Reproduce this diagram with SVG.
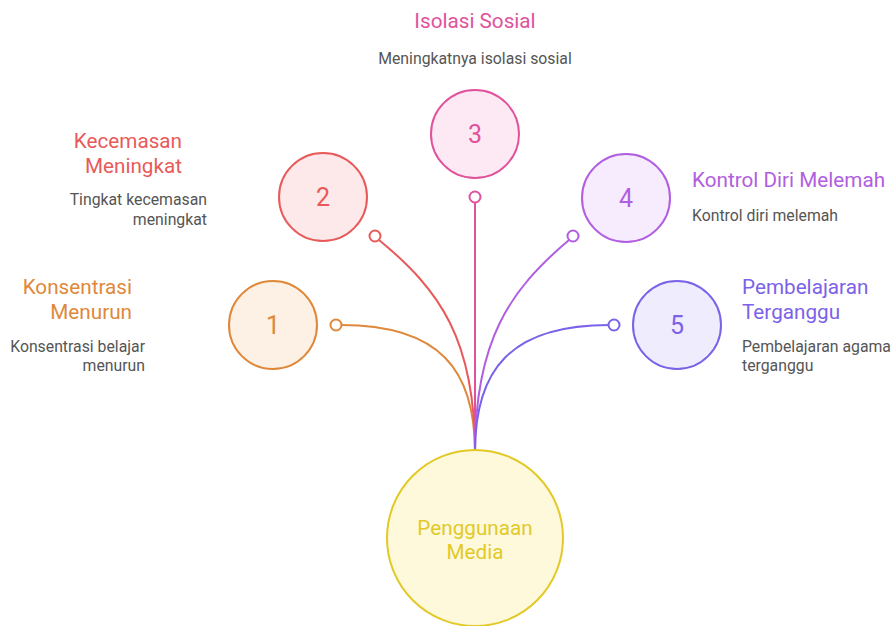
<svg xmlns="http://www.w3.org/2000/svg" width="893" height="626" viewBox="0 0 893 626">
<style>
text{font-family:Roboto,"Liberation Sans",sans-serif}
.t{font-size:20.7px}
.d{font-size:15.8px;fill:#555}
.n{font-size:25px;text-anchor:middle}
.c{fill:none;stroke-width:2}
.dot{fill:#fff;stroke-width:2}
</style>
<rect width="893" height="626" fill="#fff"/>
<g id="connectors">
<path class="c" stroke="#e0883a" d="M475 452 C475 370 440 325 341 325"/>
<path class="c" stroke="#e85a5a" d="M475 452 C475 340 440 290 379 240"/>
<path class="c" stroke="#e0529c" d="M475 452 L475 202"/>
<path class="c" stroke="#b15ee0" d="M475 452 C475 340 510 290 569 240"/>
<path class="c" stroke="#7b62e8" d="M475 452 C475 370 510 325 609 325"/>
<circle class="dot" stroke="#e0883a" cx="336" cy="325" r="5.5"/>
<circle class="dot" stroke="#e85a5a" cx="375" cy="236" r="5.5"/>
<circle class="dot" stroke="#e0529c" cx="475" cy="197" r="5.5"/>
<circle class="dot" stroke="#b15ee0" cx="573" cy="236" r="5.5"/>
<circle class="dot" stroke="#7b62e8" cx="614" cy="325" r="5.5"/>
</g>
<g id="center">
<circle cx="475" cy="538" r="88" fill="#fef9db" stroke="#e2c928" stroke-width="2"/>
<text class="t" x="475" y="535" text-anchor="middle" fill="#e2c928">Penggunaan</text>
<text class="t" x="475" y="559" text-anchor="middle" fill="#e2c928">Media</text>
</g>
<g id="node1">
<circle cx="273" cy="325" r="44" fill="#fdf0e4" stroke="#e0883a" stroke-width="2"/>
<text class="n" x="273" y="334" fill="#e0883a">1</text>
<text class="t" x="132" y="294" text-anchor="end" fill="#e0883a">Konsentrasi</text>
<text class="t" x="132" y="319" text-anchor="end" fill="#e0883a">Menurun</text>
<text class="d" x="145" y="352" text-anchor="end">Konsentrasi belajar</text>
<text class="d" x="145" y="371" text-anchor="end">menurun</text>
</g>
<g id="node2">
<circle cx="323" cy="197" r="44" fill="#fde9e9" stroke="#e85a5a" stroke-width="2"/>
<text class="n" x="323" y="206" fill="#e85a5a">2</text>
<text class="t" x="182" y="148" text-anchor="end" fill="#e85a5a">Kecemasan</text>
<text class="t" x="182" y="173" text-anchor="end" fill="#e85a5a">Meningkat</text>
<text class="d" x="207" y="205" text-anchor="end">Tingkat kecemasan</text>
<text class="d" x="207" y="225" text-anchor="end">meningkat</text>
</g>
<g id="node3">
<circle cx="475" cy="134" r="44" fill="#fce9f4" stroke="#e0529c" stroke-width="2"/>
<text class="n" x="475" y="143" fill="#e0529c">3</text>
<text class="t" x="475" y="28" text-anchor="middle" fill="#e0529c">Isolasi Sosial</text>
<text class="d" x="475" y="64" text-anchor="middle">Meningkatnya isolasi sosial</text>
</g>
<g id="node4">
<circle cx="626" cy="198" r="44" fill="#f7ecfd" stroke="#b15ee0" stroke-width="2"/>
<text class="n" x="626" y="207" fill="#b15ee0">4</text>
<text class="t" x="692" y="187" fill="#b15ee0">Kontrol Diri Melemah</text>
<text class="d" x="692" y="221">Kontrol diri melemah</text>
</g>
<g id="node5">
<circle cx="677" cy="325" r="44" fill="#efecfd" stroke="#7b62e8" stroke-width="2"/>
<text class="n" x="677" y="334" fill="#7b62e8">5</text>
<text class="t" x="742" y="294" fill="#7b62e8">Pembelajaran</text>
<text class="t" x="742" y="319" fill="#7b62e8">Terganggu</text>
<text class="d" x="742" y="352">Pembelajaran agama</text>
<text class="d" x="742" y="371">terganggu</text>
</g>
</svg>
